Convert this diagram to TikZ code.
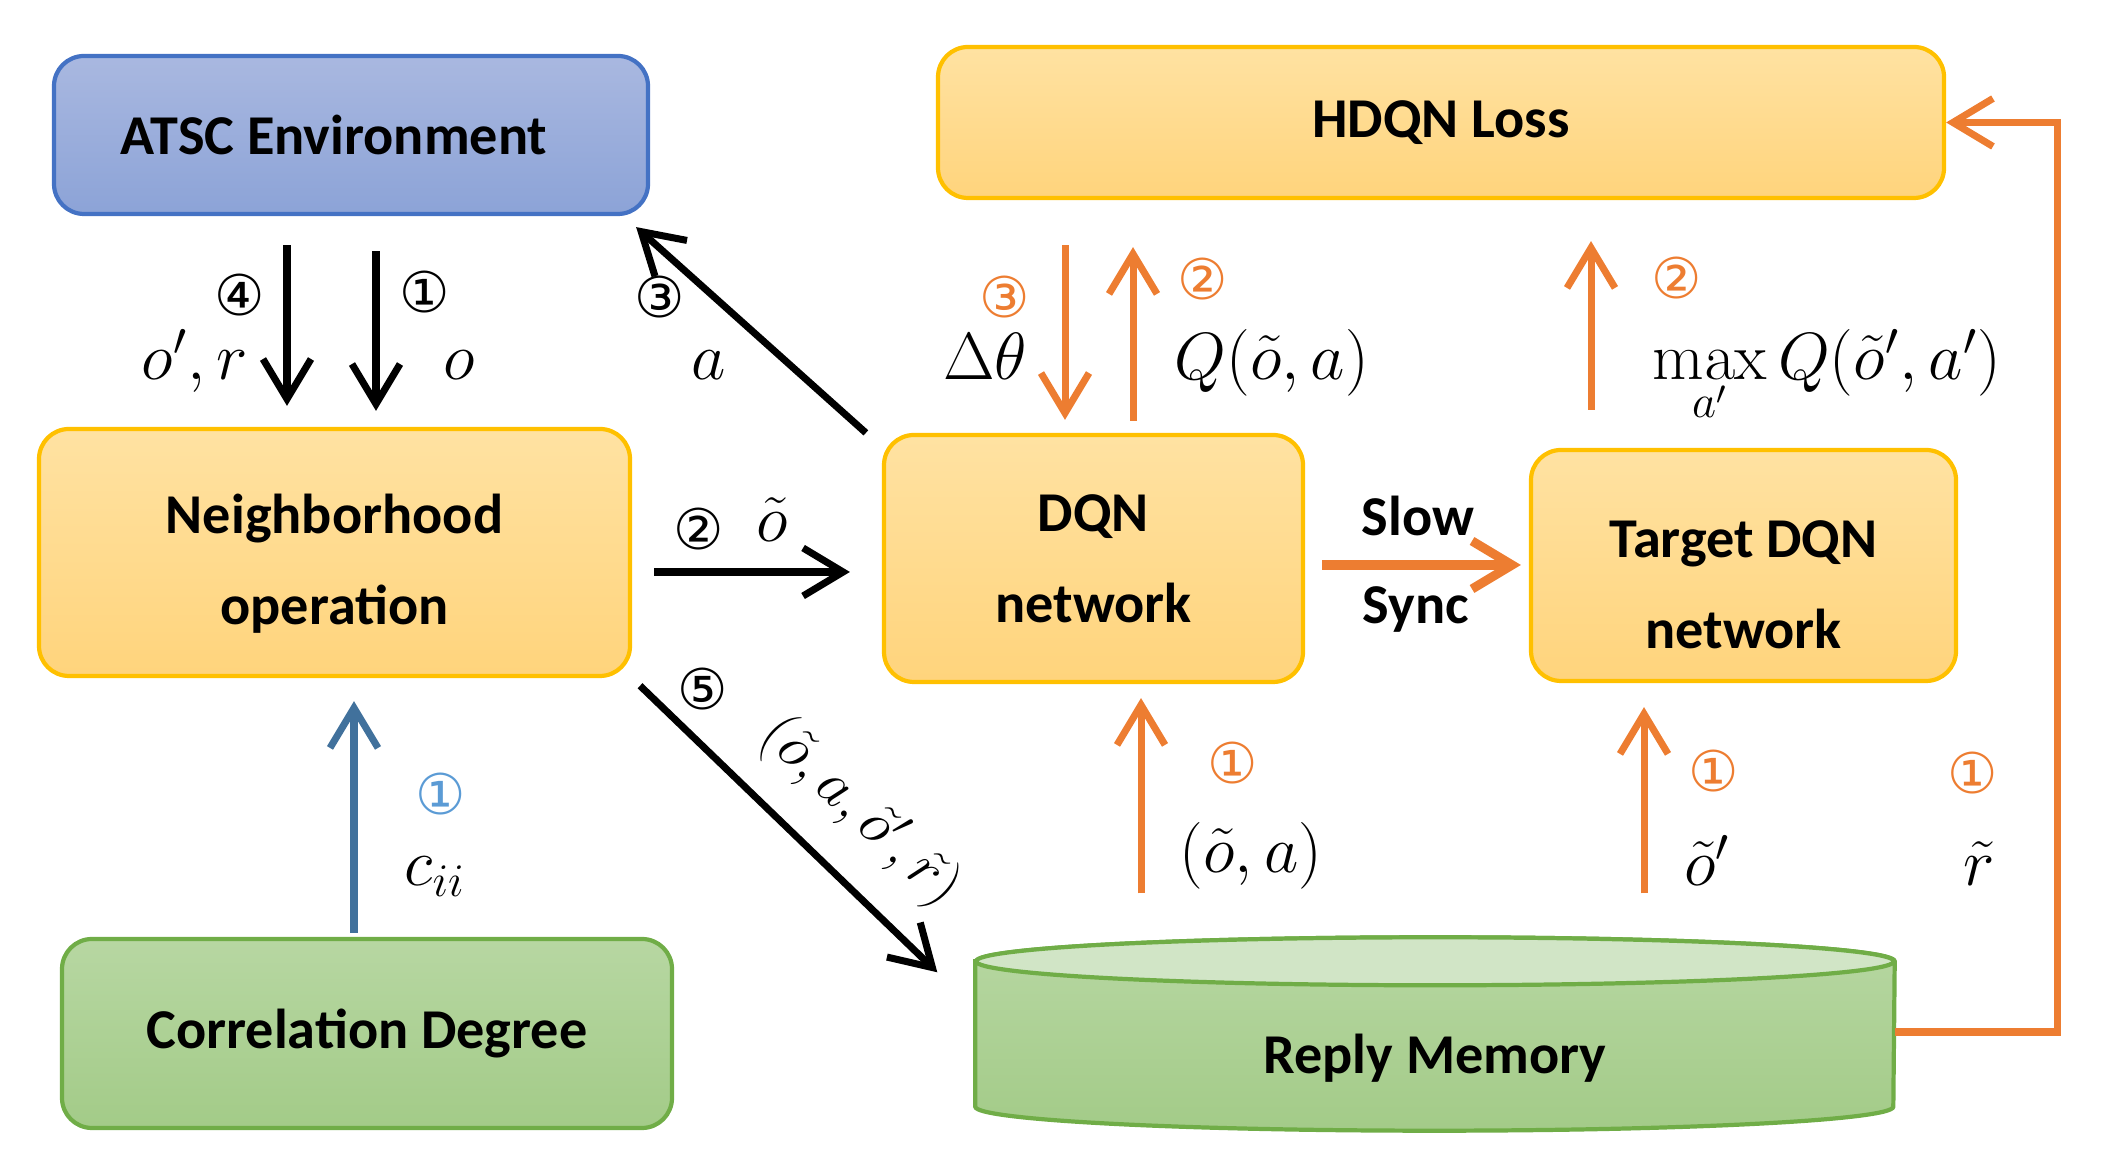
\documentclass[tikz,border=0pt]{standalone}
\usepackage{fix-cm}
\usepackage[no-math]{fontspec}
\setmainfont{Carlito}
\newfontfamily\circfont{DejaVu Sans}
\usetikzlibrary{arrows.meta,backgrounds}

\definecolor{ytop}{HTML}{FFE2A2}
\definecolor{ybot}{HTML}{FFD47C}
\definecolor{yline}{HTML}{FFC000}
\definecolor{btop}{HTML}{A9B8E0}
\definecolor{bbot}{HTML}{8CA3D7}
\definecolor{bline}{HTML}{4472C4}
\definecolor{gtop}{HTML}{B7D7A2}
\definecolor{gbot}{HTML}{A3CB88}
\definecolor{gcap}{HTML}{D1E5C6}
\definecolor{gline}{HTML}{70AD47}
\definecolor{orng}{HTML}{ED7D31}
\definecolor{steel}{HTML}{41719C}
\definecolor{lblue}{HTML}{5B9BD5}

\newcommand{\boxtxt}{\fontsize{16}{26}\selectfont\bfseries}
\newcommand{\mth}{\fontsize{19}{22}\selectfont}
\newcommand{\cnum}{\fontsize{16}{18}\selectfont\circfont}

\tikzset{
  box/.style={rectangle, rounded corners=0.3cm, line width=1.2pt, align=center, font=\boxtxt, inner sep=0pt},
  ybox/.style={box, draw=yline, top color=ytop, bottom color=ybot},
  bbox/.style={box, draw=bline, top color=btop, bottom color=bbot},
  gbox/.style={box, draw=gline, top color=gtop, bottom color=gbot},
  tip/.style={-{Straight Barb[length=0.4cm, width=0.48cm]}},
  blk/.style={tip, line width=2pt, black},
  org/.style={tip, line width=2pt, orng},
  stl/.style={tip, line width=2pt, steel},
  circ/.style={font=\cnum, inner sep=0pt},
  mlbl/.style={font=\mth, anchor=base, inner sep=0pt},
  txt/.style={font=\boxtxt, inner sep=0pt}
}

\begin{document}
\begin{tikzpicture}
\useasboundingbox (0,0) rectangle (21.02,11.64);
\node[bbox, minimum width=5.94cm, minimum height=1.58cm] (env) at (3.51,10.29) {ATSC Environment\hspace*{0.34cm}};
\node[ybox, minimum width=10.06cm, minimum height=1.51cm] (loss) at (14.41,10.415) {HDQN Loss};
\node[ybox, minimum width=5.91cm, minimum height=2.47cm] (nbr) at (3.345,6.115) {\rule{0pt}{0.62cm}Neighborhood\\operation};
\node[ybox, minimum width=4.19cm, minimum height=2.47cm] (dqn) at (10.935,6.055) {DQN\\network};
\node[ybox, minimum width=4.25cm, minimum height=2.31cm] (tdqn) at (17.435,5.985) {\rule{0pt}{0.75cm}Target DQN\\network};
\node[gbox, minimum width=6.10cm, minimum height=1.89cm] (corr) at (3.67,1.305) {Correlation Degree};
\node[txt, minimum width=9.18cm, minimum height=1.44cm] (rm) at (14.35,1.06) {Reply Memory};
\coordinate (rmtop) at ([yshift=0.48cm]rm.north);
\begin{scope}[on background layer]
\draw[gline, line width=1.2pt, top color=gtop, bottom color=gbot] ([yshift=0.24cm]rm.north west) -- ([yshift=0.24cm]rm.south west) arc[start angle=180, end angle=360, x radius=4.59cm, y radius=0.24cm] -- ([yshift=0.24cm]rm.north east) arc[start angle=0, end angle=180, x radius=4.59cm, y radius=0.24cm] -- cycle;
\draw[gline, line width=1.2pt, fill=gcap] ([yshift=0.24cm]rm.north) ellipse[x radius=4.59cm, y radius=0.24cm];
\end{scope}

\draw[blk, shorten <=0.29cm, shorten >=0.21cm] ([xshift=-0.64cm]env.south) -- ([xshift=-0.64cm]env.south |- nbr.north);
\draw[blk, shorten <=0.35cm, shorten >=0.16cm] ([xshift=0.25cm]env.south) -- ([xshift=0.25cm]env.south |- nbr.north);
\draw[blk] ([xshift=-0.16cm]dqn.north west) -- ([xshift=-0.14cm,yshift=-0.11cm]env.south east);
\draw[blk, shorten <=0.22cm, shorten >=0.32cm] ([yshift=-0.195cm]nbr.east) -- ([yshift=-0.195cm]nbr.east -| dqn.west);
\draw[blk, shorten <=0.11cm] (nbr.south east) -- ([xshift=-0.38cm,yshift=0.13cm]rm.north west);
\draw[stl, shorten <=0.04cm, shorten >=0.23cm] ([xshift=-0.13cm]corr.north) -- ([xshift=-0.13cm]corr.north |- nbr.south);

\draw[org, shorten <=0.45cm, shorten >=0.13cm] ([xshift=-0.285cm]dqn.north |- loss.south) -- ([xshift=-0.285cm]dqn.north);
\draw[org, shorten <=0.12cm, shorten >=0.47cm] ([xshift=0.395cm]dqn.north) -- ([xshift=0.395cm]dqn.north |- loss.south);
\draw[org, shorten <=0.38cm, shorten >=0.41cm] ([xshift=-1.525cm]tdqn.north) -- ([xshift=-1.525cm]tdqn.north |- loss.south);
\draw[org, line width=2.6pt, shorten <=0.17cm, shorten >=0.08cm] ([yshift=-0.065cm]dqn.east) -- ([yshift=-0.065cm]dqn.east -| tdqn.west);
\draw[org, shorten <=0.44cm, shorten >=0.14cm] ([xshift=0.475cm]dqn.south |- rmtop) -- ([xshift=0.475cm]dqn.south);
\draw[org, shorten <=0.44cm, shorten >=0.24cm] ([xshift=-0.995cm]tdqn.south |- rmtop) -- ([xshift=-0.995cm]tdqn.south);
\draw[org] ([yshift=0.26cm]rm.east) -| ([xshift=1.11cm]loss.east) -- (loss.east);

\node[circ] (c4) at (2.40,8.69) {④};
\node[mlbl] (opr) at (1.95,7.84) {$o',r$};
\node[circ] (c1) at (4.25,8.72) {①};
\node[mlbl] (obs) at (4.59,7.84) {$o$};
\node[circ] (c3) at (6.60,8.67) {③};
\node[mlbl] (act) at (7.09,7.84) {$a$};
\node[circ] (c2) at (6.99,6.35) {②};
\node[mlbl] (otl) at (7.72,6.22) {$\tilde{o}$};
\node[circ] (c5) at (7.03,4.75) {⑤};
\node[font=\fontsize{17}{20}\selectfont, rotate=-43, inner sep=0pt] (tup) at (8.60,3.52) {$(\tilde{o},a,\tilde{o}',\tilde{r})$};
\node[circ, lblue] (cb1) at (4.41,3.70) {①};
\node[mlbl] (cii) at (4.35,2.78) {$c_{ii}$};

\node[circ, orng] (cq3) at (10.05,8.67) {③};
\node[mlbl] (dth) at (9.85,7.84) {$\Delta\theta$};
\node[circ, orng] (cq2) at (12.03,8.85) {②};
\node[mlbl] (qoa) at (12.72,7.84) {$Q(\tilde{o},a)$};
\node[circ, orng] (ct2) at (16.77,8.86) {②};
\node[mlbl] (mxq) at (18.27,7.84) {$\max\limits_{a'} Q(\tilde{o}',a')$};
\node[txt] (slw) at (14.18,6.48) {Slow};
\node[txt] (syn) at (14.16,5.55) {Sync};
\node[circ, orng] (cr1) at (12.33,4.01) {①};
\node[mlbl] (toa) at (12.51,2.91) {$(\tilde{o},a)$};
\node[circ, orng] (cs1) at (17.14,3.93) {①};
\node[mlbl] (osp) at (17.07,2.78) {$\tilde{o}'$};
\node[circ, orng] (cw1) at (19.73,3.91) {①};
\node[mlbl] (rtl) at (19.79,2.78) {$\tilde{r}$};
\end{tikzpicture}
\end{document}
